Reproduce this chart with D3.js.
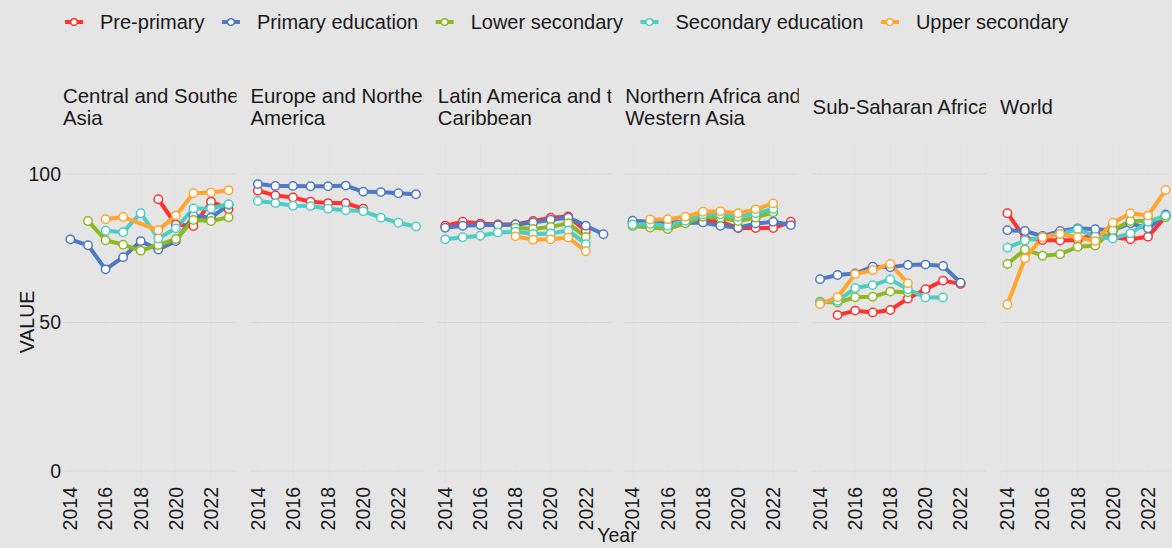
<!DOCTYPE html>
<html>
<head>
<meta charset="utf-8">
<script src="https://cdn.jsdelivr.net/npm/d3@7"></script>
<style>
  body { margin: 0; background: #e5e5e5; }
  svg { display: block; font-family: "Liberation Sans", Arial, sans-serif; }
</style>
</head>
<body>
<div id="chart"></div>
<script>
// Data
const years = [2014, 2015, 2016, 2017, 2018, 2019, 2020, 2021, 2022, 2023];
const xTicks = [2014, 2016, 2018, 2020, 2022];
const yTicks = [0, 50, 100];

const regionTitles = [
  ["Central and Southern", "Asia"],
  ["Europe and Northern", "America"],
  ["Latin America and the", "Caribbean"],
  ["Northern Africa and", "Western Asia"],
  ["Sub-Saharan Africa"],
  ["World"]
];

const seriesNames = ["Pre-primary", "Primary education", "Lower secondary", "Secondary education", "Upper secondary"];
const seriesColors = ["#ff3131", "#4f79c0", "#8cb823", "#4ecdc4", "#ffa530"];

// one row per region, one value per year (null = no data)
const prePrimary = [
  [null, null, null, null, null, 91.5, 83.0, 82.5, 90.7, 88.1],
  [94.4, 92.8, 92.1, 90.7, 90.2, 90.2, 88.3, null, null, null],
  [82.6, 83.9, 83.3, 83.0, 83.0, 84.2, 85.3, 85.7, 80.8, null],
  [83.4, 83.7, 83.5, 84.0, 84.5, 84.0, 81.8, 81.8, 81.8, 83.9],
  [null, 52.5, 54.0, 53.4, 54.2, 58.1, 61.2, 64.1, 63.0, null],
  [86.8, 78.3, 77.8, 77.6, 77.8, 79.8, 78.7, 78.0, 78.9, 85.6]
];
const primary = [
  [78.0, 76.0, 67.9, 72.0, 77.4, 74.6, 77.4, 85.9, 85.3, 89.6],
  [96.6, 96.0, 96.0, 95.9, 95.9, 96.1, 94.0, 93.9, 93.5, 93.2],
  [81.9, 82.6, 82.8, 82.8, 83.0, 83.7, 84.6, 85.3, 82.6, 79.7],
  [84.3, 83.9, 83.7, 83.5, 83.7, 82.6, 81.9, 83.3, 83.9, 82.8],
  [64.6, 66.0, 66.5, 68.8, 68.6, 69.4, 69.5, 69.0, 63.4, null],
  [81.1, 80.8, 79.1, 80.8, 81.7, 81.4, 81.1, 83.4, 81.7, 86.4]
];
const lowerSecondary = [
  [null, 84.2, 77.7, 76.2, 74.2, 76.1, 78.1, 84.5, 84.2, 85.4],
  [null, null, null, null, null, null, null, null, null, null],
  [null, null, null, null, 81.9, 81.5, 82.2, 83.4, 78.8, null],
  [82.5, 82.0, 81.5, 83.4, 85.6, 85.3, 84.2, 85.3, 87.1, null],
  [57.0, 56.7, 58.5, 58.7, 60.4, 60.2, null, null, null, null],
  [69.7, 74.6, 72.5, 73.0, 75.5, 75.9, 81.1, 84.2, 84.3, 85.4]
];
const secondary = [
  [null, null, 80.9, 80.4, 86.8, 78.3, 81.7, 88.4, 88.4, 89.8],
  [90.9, 90.2, 89.3, 89.2, 88.3, 87.8, 87.5, 85.3, 83.6, 82.3],
  [78.0, 78.7, 79.2, 80.3, 80.6, 79.8, 80.0, 81.0, 76.4, null],
  [83.0, 83.2, 82.6, 84.3, 86.4, 86.4, 85.6, 86.8, 88.2, null],
  [56.7, 57.3, 61.6, 62.6, 64.5, 61.2, 58.4, 58.4, null, null],
  [75.2, 77.6, 78.7, 79.8, 81.4, 78.9, 78.3, 80.0, 83.9, 86.0]
];
const upperSecondary = [
  [null, null, 84.8, 85.5, null, 81.1, 86.0, 93.5, 93.8, 94.5],
  [null, null, null, null, null, null, null, null, null, null],
  [null, null, null, null, 79.0, 77.9, 78.0, 78.6, 74.0, null],
  [null, 84.7, 84.8, 85.6, 87.3, 87.5, 86.8, 88.1, 90.1, null],
  [56.2, 58.5, 66.3, 67.7, 69.7, 63.2, null, null, null, null],
  [56.1, 71.6, 78.7, 79.8, 78.7, 77.4, 83.6, 86.8, 86.0, 94.6]
];
const seriesValues = [prePrimary, primary, lowerSecondary, secondary, upperSecondary];

// Layout
const W = 1172, H = 548;
const panelLeft = 62.5, panelStep = 187.4, panelW = 174;
const panelTop = 145, panelBottom = 485;
const textCol = "#1a1a1a";

const svg = d3.select("#chart").append("svg")
  .attr("width", W).attr("height", H);

svg.append("rect").attr("width", W).attr("height", H).attr("fill", "#e5e5e5");

const y = d3.scaleLinear().domain([0, 100]).range([471, 174]);
const x = d3.scaleLinear().domain([2013.55, 2023.45]).range([0, panelW]);

const line = d3.line()
  .x(d => x(d.year))
  .y(d => y(d.value));

// Legend
let lx = 65;
const legend = svg.append("g").attr("class", "legend");
seriesNames.forEach((name, i) => {
  let g = legend.append("g");
  g.append("line")
    .attr("x1", lx).attr("x2", lx + 18).attr("y1", 22).attr("y2", 22)
    .attr("stroke", seriesColors[i]).attr("stroke-width", 4);
  g.append("circle")
    .attr("cx", lx + 9).attr("cy", 22).attr("r", 3.3)
    .attr("fill", "#fff").attr("stroke", seriesColors[i]).attr("stroke-width", 1.4);
  let t = g.append("text")
    .attr("x", lx + 35).attr("y", 29)
    .attr("font-size", 20).attr("fill", textCol)
    .text(name);
  lx = lx + 35 + t.node().getComputedTextLength() + 17.5;
});

// Panels
regionTitles.forEach((title, r) => {
  let px = panelLeft + r * panelStep;
  let panel = svg.append("g").attr("transform", `translate(${px},0)`);

  // strip title, clipped to the panel width
  panel.append("clipPath").attr("id", `clip-${r}`)
    .append("rect").attr("x", 0).attr("y", 60).attr("width", panelW).attr("height", 90);
  let strip = panel.append("g").attr("clip-path", `url(#clip-${r})`);
  let baseY = title.length == 2 ? 103 : 114;
  title.forEach((ln, k) => {
    strip.append("text")
      .attr("x", 0.5).attr("y", baseY + k * 21.5)
      .attr("font-size", 20.4).attr("fill", textCol)
      .text(ln);
  });

  // grid
  panel.selectAll(".vgrid")
    .data(xTicks)
    .enter().append("line")
      .attr("x1", d => x(d)).attr("x2", d => x(d))
      .attr("y1", panelTop).attr("y2", panelBottom)
      .attr("stroke", "#d4d4d4").attr("stroke-width", 0.8)
      .attr("stroke-dasharray", "1 3");
  panel.selectAll(".hgrid")
    .data(yTicks)
    .enter().append("line")
      .attr("x1", 0).attr("x2", panelW)
      .attr("y1", d => y(d)).attr("y2", d => y(d))
      .attr("stroke", "#d8d8d8").attr("stroke-width", 1.1);

  // x tick labels
  panel.selectAll(".xlab")
    .data(xTicks)
    .enter().append("text")
      .attr("transform", d => `translate(${x(d)},487) rotate(-90)`)
      .attr("text-anchor", "end").attr("dy", "0.35em")
      .attr("font-size", 19.5).attr("fill", textCol)
      .text(d => d);

  // lines first, then points
  let seriesData = seriesValues.map(vals =>
    years.map((yr, k) => ({year: yr, value: vals[r][k]})).filter(d => d.value != null)
  );
  seriesData.forEach((data, s) => {
    if (data.length < 1) return;
    panel.append("path")
      .datum(data)
      .attr("d", line)
      .attr("fill", "none")
      .attr("stroke", seriesColors[s])
      .attr("stroke-width", 4)
      .attr("stroke-linejoin", "round");
  });
  seriesData.forEach((data, s) => {
    panel.selectAll(`.pt-${s}`)
      .data(data)
      .enter().append("circle")
        .attr("cx", d => x(d.year)).attr("cy", d => y(d.value))
        .attr("r", 4.2)
        .attr("fill", "#fff")
        .attr("stroke", seriesColors[s])
        .attr("stroke-width", 1.5);
  });
});

// y tick labels
svg.selectAll(".ylab")
  .data(yTicks)
  .enter().append("text")
    .attr("x", 61).attr("y", d => y(d)).attr("dy", "0.35em")
    .attr("text-anchor", "end")
    .attr("font-size", 19.5).attr("fill", textCol)
    .text(d => d);

// axis titles
svg.append("text")
  .attr("transform", "translate(27,322) rotate(-90)")
  .attr("text-anchor", "middle").attr("dy", "0.35em")
  .attr("font-size", 19.5).attr("fill", textCol)
  .text("VALUE");

svg.append("text")
  .attr("x", 617).attr("y", 542)
  .attr("text-anchor", "middle")
  .attr("font-size", 19.5).attr("fill", textCol)
  .text("Year");
</script>
</body>
</html>
